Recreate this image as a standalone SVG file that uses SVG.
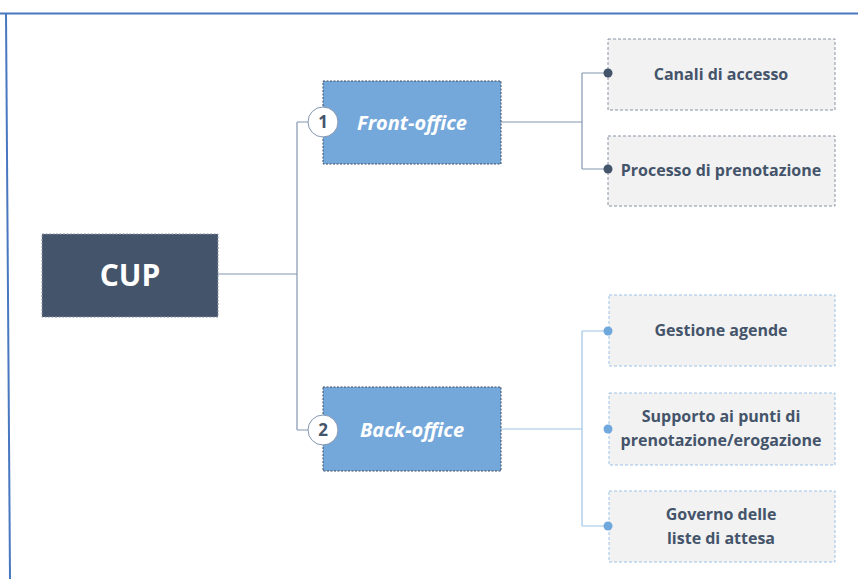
<svg xmlns="http://www.w3.org/2000/svg" width="858" height="579" viewBox="0 0 858 579">
  <style>
    text { font-family: "Open Sans", Lato, "Liberation Sans", sans-serif; font-weight: bold; text-anchor: middle; }
    .root { fill: #44546A; stroke: #8C96A3; stroke-width: 1; stroke-dasharray: 2 1.5; }
    .root-t { fill: #FFFFFF; font-size: 30px; }
    .branch { fill: #75A8DA; stroke: #3F4C5E; stroke-width: 1; stroke-dasharray: 2 1.5; }
    .branch-t { fill: #FFFFFF; font-size: 20px; font-style: italic; }
    .badge { fill: #FFFFFF; stroke: #8496B0; stroke-width: 1; }
    .badge-t { fill: #44546A; font-size: 17px; }
    .leaf-a { fill: #F2F2F2; stroke: #8A94A4; stroke-width: 1; stroke-dasharray: 3 2; }
    .leaf-b { fill: #F2F2F2; stroke: #9DC3E6; stroke-width: 1; stroke-dasharray: 3 2; }
    .leaf-t { fill: #44546A; font-size: 16px; }
    .wire-a { fill: none; stroke: #8496B0; stroke-width: 1.2; }
    .wire-b { fill: none; stroke: #9DC3E6; stroke-width: 1.2; }
    .dot-a { fill: #44546A; }
    .dot-b { fill: #6FA8DC; }
  </style>

  <!-- frame -->
  <line x1="0" y1="13.5" x2="858" y2="13.5" stroke="#4A78C0" stroke-width="2"/>
  <line x1="6" y1="13" x2="10" y2="579" stroke="#4A78C0" stroke-width="2"/>

  <!-- connectors -->
  <g id="connectors">
    <path class="wire-a" d="M218 274 H297 M297 122 V430 M297 122 H310 M297 430 H310"/>
    <path class="wire-a" d="M501 122 H582 M582 73 V169 M582 73 H608 M582 169 H608"/>
    <path class="wire-b" d="M501 429 H582 M582 331 V526 M582 331 H608 M582 526 H608"/>
  </g>

  <g id="cup">
    <rect class="root" x="42" y="234" width="176" height="83"/>
    <text class="root-t" x="130" y="286">CUP</text>
  </g>

  <g id="front-office">
    <rect class="branch" x="323" y="81" width="178" height="83"/>
    <text class="branch-t" x="412" y="130">Front-office</text>
    <circle class="badge" cx="323" cy="122" r="15"/>
    <text class="badge-t" x="323" y="128">1</text>
  </g>

  <g id="back-office">
    <rect class="branch" x="323" y="387" width="178" height="84"/>
    <text class="branch-t" x="412" y="437">Back-office</text>
    <circle class="badge" cx="323" cy="430" r="15"/>
    <text class="badge-t" x="323" y="436">2</text>
  </g>

  <g id="canali">
    <rect class="leaf-a" x="608" y="39" width="227" height="71"/>
    <text class="leaf-t" x="721" y="80">Canali di accesso</text>
  </g>

  <g id="processo">
    <rect class="leaf-a" x="608" y="136" width="227" height="70"/>
    <text class="leaf-t" x="721" y="176">Processo di prenotazione</text>
  </g>

  <g id="gestione">
    <rect class="leaf-b" x="609" y="295" width="226" height="71"/>
    <text class="leaf-t" x="721" y="336">Gestione agende</text>
  </g>

  <g id="supporto">
    <rect class="leaf-b" x="609" y="393" width="226" height="72"/>
    <text class="leaf-t" x="721" y="422">Supporto ai punti di</text>
    <text class="leaf-t" x="721" y="446">prenotazione/erogazione</text>
  </g>

  <g id="governo">
    <rect class="leaf-b" x="609" y="491" width="226" height="71"/>
    <text class="leaf-t" x="721" y="520">Governo delle</text>
    <text class="leaf-t" x="721" y="544">liste di attesa</text>
  </g>

  <!-- connector end dots, drawn over the box edges -->
  <g id="connector-dots">
    <circle class="dot-a" cx="608" cy="73" r="4.5"/>
    <circle class="dot-a" cx="608" cy="169" r="4.5"/>
    <circle class="dot-b" cx="608" cy="331" r="4.5"/>
    <circle class="dot-b" cx="608" cy="429" r="4.5"/>
    <circle class="dot-b" cx="608" cy="526" r="4.5"/>
  </g>
</svg>
